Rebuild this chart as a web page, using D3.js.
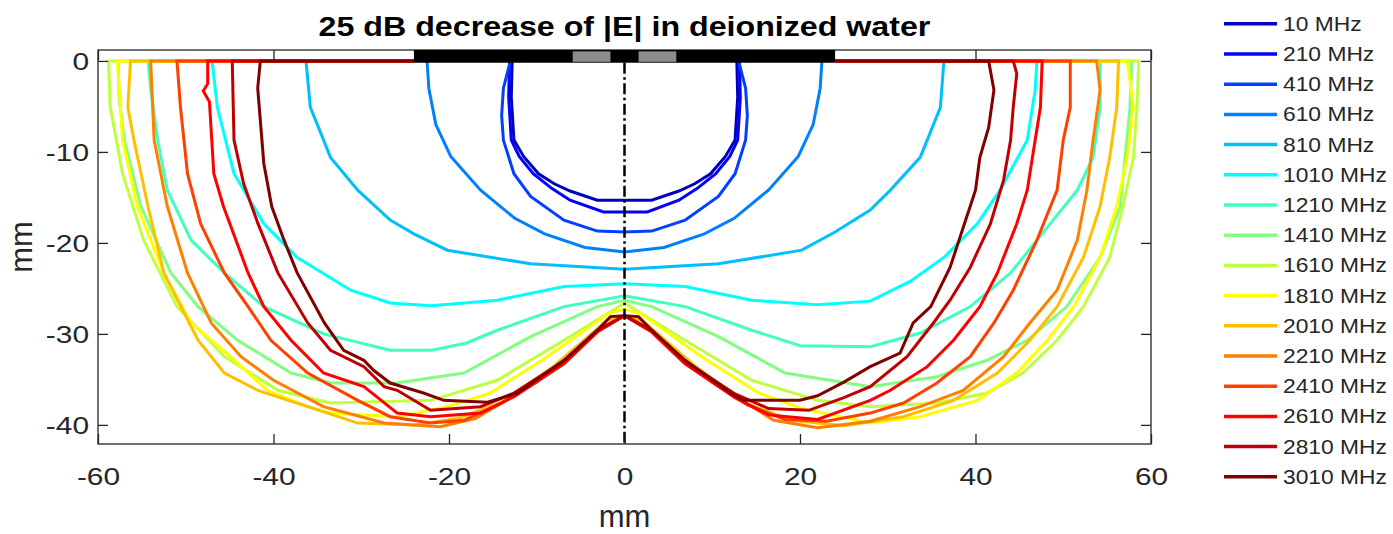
<!DOCTYPE html>
<html>
<head>
<meta charset="utf-8">
<script src="https://cdn.jsdelivr.net/npm/d3@7"></script>
<style>
  body { margin: 0; background: #fff; }
  text { font-family: "Liberation Sans", Arial, Helvetica, sans-serif; fill: #262626; }
</style>
</head>
<body>
<svg id="chart" width="1393" height="534"></svg>
<script>
// frequencies (MHz) and jet(16) colours
const freqs = [10, 210, 410, 610, 810, 1010, 1210, 1410, 1610, 1810, 2010, 2210, 2410, 2610, 2810, 3010];
const colors = ['#0000bf', '#0000ff', '#0040ff', '#0080ff', '#00bfff', '#00ffff', '#40ffbf', '#80ff80',
  '#bfff40', '#ffff00', '#ffbf00', '#ff8000', '#ff4000', '#ff0000', '#bf0000', '#800000'];

// -25 dB contours, [x mm, depth mm]
const c10 = [[-12.8,0],[-12.9,-4],[-12.6,-8.7],[-11.5,-10.5],[-9.8,-12.4],[-8,-13.5],[-6.2,-14.3],[-3.1,-15.3],[0,-15.3],
  [3.1,-15.3],[6.2,-14.3],[8,-13.5],[9.8,-12.4],[11.5,-10.5],[12.6,-8.7],[12.9,-4],[12.8,0]];
const c210 = [[-13.1,0],[-13.2,-4],[-12.9,-8.7],[-12,-10.5],[-10.4,-12.4],[-8.3,-14],[-6.2,-15.3],[-2.4,-16.6],[0,-16.6],
  [2.6,-16.6],[6.2,-15.3],[8.3,-14],[10.4,-12.4],[12,-10.5],[12.9,-8.7],[13.2,-4],[13.1,0]];
const c410 = [[-13,0],[-13.8,-3],[-14,-6],[-13.8,-8.7],[-12.6,-12.4],[-10.7,-14.9],[-6.9,-17.5],[-3.1,-18.7],[0,-18.8],
  [3.1,-18.7],[6.9,-17.5],[10.7,-14.9],[12.6,-12.4],[13.8,-8.7],[14,-6],[13.8,-3],[13,0]];
const c610 = [[-22.5,0],[-22.3,-3],[-21.5,-7],[-19.8,-10.5],[-16.4,-14.2],[-12.5,-17.3],[-9.1,-19],[-4.5,-20.5],[0,-21],
  [4.5,-20.5],[9.1,-19],[12.5,-17.3],[16.4,-14.2],[19.8,-10.5],[21.5,-7],[22.3,-3],[22.5,0]];
const c810 = [[-24,0],[-36.3,0],[-35.8,-5.1],[-33.5,-10.6],[-30.4,-14.2],[-26.7,-17.5],[-24,-19],[-20.2,-20.8],[-10.7,-22.3],[0,-22.9],
  [10.7,-22.3],[20.2,-20.8],[24,-18.8],[28,-16.4],[30.3,-14.2],[33.7,-10.6],[36,-5.1],[36.4,0],[24,0]];
const c1010 = [[-24,0],[-47,0],[-46.4,-5.1],[-44.5,-12.4],[-41.1,-17.9],[-37.3,-21.6],[-31.2,-25.2],[-26.7,-26.6],[-22.1,-26.9],[-14.5,-26.3],[-6.9,-24.8],[0,-24.5],
  [6.9,-24.8],[14.5,-26.3],[22,-26.8],[28,-26.4],[32.6,-24.2],[36.4,-21.6],[40.2,-17.9],[42.8,-14.2],[45.9,-8.7],[46.8,-3.2],[47,0],[24,0]];
const c1210 = [[-24,0],[-54.3,0],[-54,-3],[-53.2,-8.7],[-52.1,-14.2],[-49.4,-19.7],[-45.6,-23.3],[-41.1,-27],[-34.3,-30],[-26.7,-31.8],[-22,-31.8],[-18,-31],[-14.5,-29.6],[-6.9,-27],[0,-25.8],
  [6.9,-27],[14.5,-29.6],[20,-31.3],[28,-31.4],[33.7,-29.9],[39.4,-27],[44,-23.3],[47,-19.7],[51.6,-14.2],[53.4,-10.6],[54.2,-5.1],[54.2,0],[24,0]];
const c1410 = [[-24,0],[-57.7,0],[-57.6,-4],[-57,-8.7],[-55.1,-16],[-51.7,-23.3],[-48.6,-27],[-44.1,-30.7],[-38,-34.3],[-33.5,-35.4],[-26,-35.4],[-18.3,-34.3],[-10.7,-30.3],[-3.1,-27],[0,-26.3],
  [3.1,-27],[10.7,-30.3],[18.3,-34.3],[28,-35.8],[35.6,-34.7],[41.3,-32.9],[45.9,-30.7],[50.4,-27],[54.2,-21.6],[56.5,-16],[57.6,-5.1],[57.8,0],[24,0]];
const c1610 = [[-24,0],[-58.8,0],[-58.6,-5.1],[-57.2,-12.4],[-54.8,-19.7],[-51,-27],[-45.6,-32.5],[-39.5,-36.2],[-33.5,-37.6],[-22.1,-37.3],[-14.5,-35.1],[-6.9,-30.7],[-1.3,-27.4],[0,-26.6],
  [1.3,-27.4],[6.9,-30.7],[14.5,-35.1],[22,-37.3],[28,-38],[35.6,-37.6],[41.3,-36.5],[45.4,-34.3],[49.3,-30.7],[52.3,-27],[55.3,-21.6],[56.8,-16],[58,-10.6],[58.4,-5.1],[58.6,0],[24,0]];
const c1810 = [[-24,0],[-57.8,0],[-57.2,-8.7],[-55.5,-16],[-52.5,-23.3],[-49.4,-28.8],[-44.9,-32.5],[-40.7,-36.2],[-36.1,-38],[-33.5,-38.7],[-25.9,-39.1],[-20.2,-38],[-15.3,-36.5],[-8.8,-32.5],[-1.9,-27.8],[0,-27.3],
  [1.9,-27.8],[8.8,-32.5],[15.3,-36.5],[20.2,-38.2],[28,-39.8],[33.7,-39.1],[40.2,-37.3],[44.7,-34.3],[48.2,-30.7],[51.2,-27],[54.2,-21.6],[56.1,-16],[57.3,-10.6],[58,-5.1],[57.3,0],[24,0]];
const c2010 = [[-24,0],[-56.3,0],[-56.6,-5.1],[-55.9,-8.7],[-54.3,-16],[-52.5,-23.3],[-48.6,-30.7],[-45.6,-34.3],[-41.8,-36.2],[-36.1,-38],[-30.4,-39.8],[-24,-40],[-19,-39.3],[-14,-37.5],[-8,-33.5],[-2,-28.5],[0,-28],
  [2,-28.5],[8,-33.5],[14,-37.7],[19,-39.5],[25,-40.1],[31.8,-39.1],[37.5,-37.3],[42.5,-34.3],[46.2,-30.7],[49.3,-27],[52.3,-21.6],[54.2,-16],[55.3,-10.6],[56.1,-5.1],[56.3,0],[24,0]];
const c2210 = [[-24,0],[-54,0],[-53.6,-8.7],[-52.1,-16],[-49.8,-23.3],[-47.1,-28.8],[-43.7,-32.5],[-40,-35.1],[-34.3,-38],[-27.4,-39.8],[-21,-40.2],[-17,-39.3],[-12.6,-36.8],[-6.9,-33],[-3.1,-29.6],[0,-28],
  [3.1,-29.6],[6.9,-33],[12.6,-36.8],[17,-39.5],[22,-40.3],[28,-39.6],[33.7,-38],[38.6,-36.2],[43.2,-32.5],[46.2,-28.8],[49.3,-25.2],[51.6,-19.7],[52.7,-14.2],[53.4,-8.7],[54.2,-3.2],[53.8,0],[24,0]];
const c2410 = [[-24,0],[-51,0],[-50.6,-5.1],[-49.8,-12.4],[-48.3,-17.9],[-45.6,-23.3],[-42.9,-27],[-40.3,-30.7],[-36.1,-34.3],[-30.4,-37.3],[-26.7,-39.1],[-22.1,-39.8],[-18.3,-39.5],[-14,-37.6],[-10,-35.3],[-6.9,-33],[-3.1,-29.6],[0,-28],
  [3.1,-29.6],[6.9,-33],[10,-35.3],[14,-37.8],[18.3,-39.4],[23,-39.6],[28,-38.7],[31.8,-37.6],[35.6,-35.4],[39.4,-32.5],[42.1,-28.8],[44.3,-25.2],[47,-19.7],[49.3,-14.2],[50,-8.7],[50.8,-5.1],[50.8,0],[24,0]];
const c2610 = [[-24,0],[-47.5,0],[-47.5,-2.5],[-48,-3.3],[-47.3,-4.5],[-46.8,-12.4],[-45.7,-16],[-42.9,-23.3],[-41.1,-27],[-38,-30.7],[-34.3,-34.3],[-29.7,-35.8],[-25.9,-38.7],[-22.1,-39.1],[-16.4,-38.7],[-12.6,-36.9],[-6.9,-33.3],[-3.1,-29.8],[0,-28],
  [3.1,-29.8],[6.9,-33.3],[12.6,-37],[16.4,-38.9],[22,-39.4],[28,-37.3],[30.3,-36.2],[34.5,-33.6],[37.5,-30.7],[40.5,-27],[42.5,-23.3],[44.7,-17.9],[45.9,-14.2],[46.8,-8.7],[47.4,-5.1],[47.6,0],[24,0]];
const c2810 = [[-24,0],[-44.7,0],[-44.5,-8.7],[-43.4,-13.5],[-41.8,-17.8],[-39.5,-23.3],[-36.1,-28.8],[-33.5,-31.8],[-29.7,-33.6],[-27.4,-35.8],[-25.9,-36.2],[-22.1,-38.4],[-16.4,-38],[-12.6,-36.5],[-6.9,-33],[-3.1,-29.6],[0,-28],
  [3.1,-29.6],[6.9,-33],[12.6,-36.6],[16.4,-38.2],[21,-38.4],[25,-37],[28,-35.8],[32.2,-32.5],[35.2,-28.8],[37.1,-26.3],[39.4,-22.7],[41.7,-17.9],[43.2,-13.1],[44,-8.7],[44.3,-5.1],[44.7,-1.4],[44.3,0],[24,0]];
const c3010 = [[-24,0],[-41.5,0],[-41.8,-3],[-41.1,-11.3],[-40.2,-16],[-38.8,-19.7],[-37.3,-23.3],[-34.2,-28.8],[-32,-31.8],[-29.7,-32.9],[-28.6,-34],[-26.7,-35.4],[-22.9,-36.5],[-20.6,-37.3],[-15.6,-37.5],[-12.2,-36.5],[-6.9,-32.9],[-3.1,-29.6],[-1.6,-28.1],[0,-28],
  [1.6,-28.1],[3.1,-29.6],[6.9,-32.9],[12.2,-36.6],[13.5,-37.3],[20,-37.3],[22,-36.8],[25,-35.3],[28,-33.6],[31.4,-32.1],[32.9,-28.8],[34.9,-27],[37.1,-22.7],[38.6,-18.3],[40,-14.2],[40.5,-10.6],[41.5,-7.3],[42.1,-3.2],[41.5,0],[24,0]];

const contours = [c10, c210, c410, c610, c810, c1010, c1210, c1410, c1610, c1810, c2010, c2210, c2410, c2610, c2810, c3010];

// applicator on the surface (mm)
const electrode = [-24, 24];
const gaps = [[-5.9, -1.6], [1.6, 5.9]];
const xTicks = [-60, -40, -20, 0, 20, 40, 60];
const yTicks = [0, -10, -20, -30, -40];

const svg = d3.select('#chart');
const plotLeft = 98, plotRight = 1151, plotTop = 50, plotBottom = 444;
const sx = 1.3; // tick text in the picture is stretched sideways

const x = d3.scaleLinear().domain([-60, 60]).range([plotLeft, plotRight]);
const y = d3.scaleLinear().domain([-42.1, 1.2]).range([plotBottom, plotTop]);

svg.append('defs').append('clipPath').attr('id', 'plotclip')
  .append('rect').attr('x', plotLeft).attr('y', plotTop)
  .attr('width', plotRight - plotLeft).attr('height', plotBottom - plotTop);

const line = d3.line().x(d => x(d[0])).y(d => y(d[1]));

const g = svg.append('g').attr('clip-path', 'url(#plotclip)');
g.selectAll('path.contour')
  .data(contours)
  .enter()
  .append('path')
  .attr('class', 'contour')
  .attr('d', line)
  .attr('fill', 'none')
  .attr('stroke', (d, i) => colors[i])
  .attr('stroke-width', 3)
  .attr('stroke-linejoin', 'miter');

// symmetry axis
g.append('line')
  .attr('x1', x(0)).attr('x2', x(0))
  .attr('y1', y(-0.2)).attr('y2', plotBottom)
  .attr('stroke', '#000')
  .attr('stroke-width', 2.5)
  .attr('stroke-dasharray', '11,3.5,2.5,3.5');

// axes
const axisColor = '#262626';
const plain = d => String(d); // hyphen minus, like the original
function styleAxis(sel) {
  sel.select('.domain').remove();
  sel.selectAll('.tick line').attr('stroke', axisColor).attr('stroke-width', 1.3);
  sel.selectAll('.tick text').attr('fill', axisColor).style('font-size', '23px');
}

svg.append('g').attr('transform', `translate(${plotLeft},0)`)
  .call(d3.axisLeft(y).tickValues(yTicks).tickFormat(plain).tickSizeInner(-10).tickSizeOuter(0).tickPadding(9 / sx))
  .call(styleAxis)
  .call(s => s.selectAll('.tick text').attr('transform', `scale(${sx},1)`).attr('dy', '0.36em'));

svg.append('g').attr('transform', `translate(${plotRight},0)`)
  .call(d3.axisRight(y).tickValues(yTicks).tickSizeInner(-10).tickSizeOuter(0).tickFormat(''))
  .call(styleAxis);

svg.append('g').attr('transform', `translate(0,${plotBottom})`)
  .call(d3.axisBottom(x).tickValues(xTicks).tickFormat(plain).tickSizeInner(-10).tickSizeOuter(0).tickPadding(25))
  .call(styleAxis)
  .call(s => s.selectAll('.tick text').attr('transform', `scale(${sx},1)`).attr('x', 0));

svg.append('g').attr('transform', `translate(0,${plotTop})`)
  .call(d3.axisTop(x).tickValues(xTicks).tickSizeInner(-10).tickSizeOuter(0).tickFormat(''))
  .call(styleAxis);

svg.append('rect')
  .attr('x', plotLeft).attr('y', plotTop)
  .attr('width', plotRight - plotLeft).attr('height', plotBottom - plotTop)
  .attr('fill', 'none').attr('stroke', axisColor).attr('stroke-width', 1.3);

// applicator bar
svg.append('rect')
  .attr('x', x(electrode[0])).attr('y', y(1.2))
  .attr('width', x(electrode[1]) - x(electrode[0]))
  .attr('height', y(-0.2) - y(1.2))
  .attr('fill', '#000');
svg.selectAll('rect.gap')
  .data(gaps)
  .enter()
  .append('rect')
  .attr('class', 'gap')
  .attr('x', d => x(d[0])).attr('y', y(1.05))
  .attr('width', d => x(d[1]) - x(d[0]))
  .attr('height', y(-0.1) - y(1.05))
  .attr('fill', '#8c8c8c');

// title and labels
svg.append('text')
  .attr('transform', `translate(${x(0)},36) scale(1.15,1)`)
  .attr('text-anchor', 'middle')
  .style('font-size', '28px')
  .style('font-weight', 'bold')
  .style('fill', '#000')
  .text('25 dB decrease of |E| in deionized water');

svg.append('text')
  .attr('transform', `translate(${x(0)},527)`)
  .attr('text-anchor', 'middle')
  .style('font-size', '31px')
  .text('mm');

svg.append('text')
  .attr('transform', `translate(32,${(plotTop + plotBottom) / 2}) rotate(-90)`)
  .attr('text-anchor', 'middle')
  .style('font-size', '31px')
  .text('mm');

// legend
const legend = svg.append('g');
const row = legend.selectAll('g')
  .data(freqs)
  .enter()
  .append('g')
  .attr('transform', (d, i) => `translate(0,${23.8 + i * 30.2})`);
row.append('line')
  .attr('x1', 1224).attr('x2', 1277)
  .attr('stroke', (d, i) => colors[i])
  .attr('stroke-width', 3.5);
row.append('text')
  .attr('transform', 'translate(1283,7) scale(1.17,1)')
  .style('font-size', '19.5px')
  .text(d => d + ' MHz');
</script>
</body>
</html>
